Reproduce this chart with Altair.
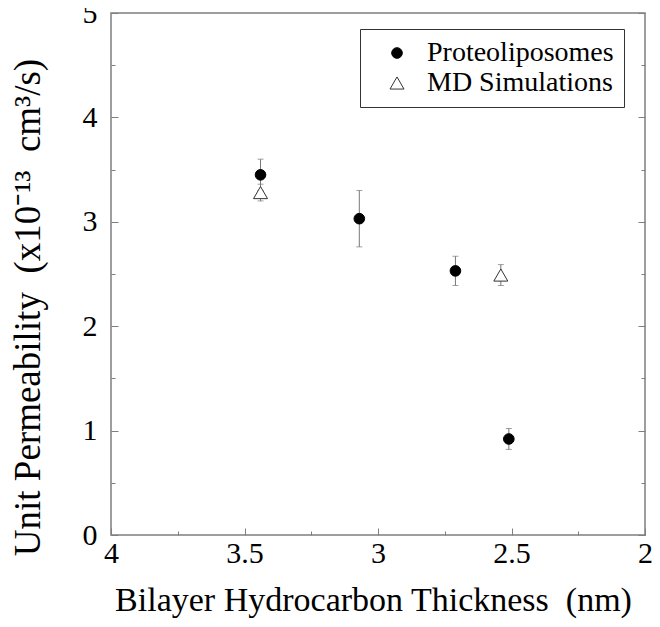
import altair as alt
import pandas as pd

# ---- data ----
series_names = ["Proteoliposomes", "MD Simulations"]

prot_thickness = [3.44, 3.07, 2.71, 2.51]
prot_perm = [3.45, 3.03, 2.53, 0.92]
prot_err = [0.15, 0.27, 0.14, 0.10]

md_thickness = [3.44, 2.54]
md_perm = [3.28, 2.49]
md_err = [0.08, 0.10]

x_major = [4, 3.5, 3, 2.5, 2]
x_minor = [3.75, 3.25, 2.75, 2.25]
y_major = [0, 1, 2, 3, 4, 5]
y_minor = [0.5, 1.5, 2.5, 3.5, 4.5]

rows = []
for t, p, e in zip(prot_thickness, prot_perm, prot_err):
    rows.append({"series": series_names[0], "x": t, "y": p, "lo": p - e, "hi": p + e})
for t, p, e in zip(md_thickness, md_perm, md_err):
    rows.append({"series": series_names[1], "x": t, "y": p, "lo": p - e, "hi": p + e})
df = pd.DataFrame(rows)

FONT = "Liberation Serif"
GRAY = "#7f7f7f"

xscale = alt.Scale(domain=[2, 4], reverse=True, nice=False, zero=False)
yscale = alt.Scale(domain=[0, 5], nice=False, zero=False)


def axis_layer(xaxis, yaxis):
    return alt.Chart(df).mark_point(opacity=0).encode(
        x=alt.X("x:Q", scale=xscale, axis=xaxis),
        y=alt.Y("y:Q", scale=yscale, axis=yaxis),
    )


def tick_axis(orient, values, size):
    return alt.Axis(orient=orient, values=values, labels=False, domain=False,
                    grid=False, tickSize=size, offset=-size, tickColor=GRAY,
                    tickWidth=1, title=None)


label_layer = axis_layer(
    alt.Axis(orient="bottom", values=x_major, ticks=False, domain=False, grid=False,
             format="~g", labelPadding=3, labelFlush=False, labelOverlap=False,
             title="Bilayer Hydrocarbon Thickness \u00a0(nm)", titlePadding=15,
             titleX=262),
    alt.Axis(orient="left", values=y_major, ticks=False, domain=False, grid=False,
             format="~g", labelPadding=14, labelFlush=False, labelOverlap=False,
             title="Unit Permeability \u00a0(x10\u207b\u00b9\u00b3 \u00a0cm\u00b3/s)",
             titleFontSize=37, titlePadding=35, titleY=294),
)

major_ticks = axis_layer(tick_axis("bottom", x_major, 7), tick_axis("left", y_major, 7))
minor_ticks = axis_layer(tick_axis("bottom", x_minor, 4), tick_axis("left", y_minor, 4))
right_major = axis_layer(None, tick_axis("right", y_major, 7))
right_minor = axis_layer(None, tick_axis("right", y_minor, 4))

errbars = alt.Chart(df).mark_errorbar(
    ticks={"size": 6, "color": "#777777"}, color="#777777", thickness=1
).encode(
    x=alt.X("x:Q", scale=xscale, axis=None),
    y=alt.Y("lo:Q", scale=yscale, axis=None),
    y2="hi:Q",
)

legend = alt.Legend(
    title=None, orient="none", legendX=249, legendY=16,
    strokeColor="#333333", fillColor="white", padding=10,
    labelFont=FONT, labelFontSize=28, labelColor="black", labelLimit=0,
    symbolOffset=13, labelOffset=16, rowPadding=2, symbolStrokeWidth=1,
)

points = alt.Chart(df).mark_point(opacity=1, strokeWidth=1).encode(
    x=alt.X("x:Q", scale=xscale, axis=None),
    y=alt.Y("y:Q", scale=yscale, axis=None),
    shape=alt.Shape("series:N", scale=alt.Scale(domain=series_names,
                                                  range=["circle", "triangle-up"]),
                    legend=legend),
    fill=alt.Fill("series:N", scale=alt.Scale(domain=series_names,
                                                range=["black", "white"]),
                  legend=legend),
    stroke=alt.Stroke("series:N", scale=alt.Scale(domain=series_names,
                                                    range=["black", "#333333"]),
                      legend=legend),
    size=alt.Size("series:N", scale=alt.Scale(domain=series_names, range=[113, 196]),
                  legend=legend),
)

chart = alt.layer(
    label_layer, major_ticks, minor_ticks, right_major, right_minor, errbars, points
).resolve_axis(
    x="independent", y="independent"
).properties(
    width=534, height=522,
    autosize=alt.AutoSizeParams(type="none"),
    padding={"left": 103, "top": 5, "right": 7, "bottom": 91},
).configure_view(
    stroke=GRAY, strokeWidth=1.5
).configure_axis(
    labelFont=FONT, labelFontSize=30, labelColor="black",
    titleFont=FONT, titleFontSize=34, titleFontWeight="normal", titleColor="black",
).configure_legend(
    labelFont=FONT, labelFontSize=28, labelColor="black", labelLimit=0,
)

chart.save("out.html", embed_options={"renderer": "svg", "actions": False})
